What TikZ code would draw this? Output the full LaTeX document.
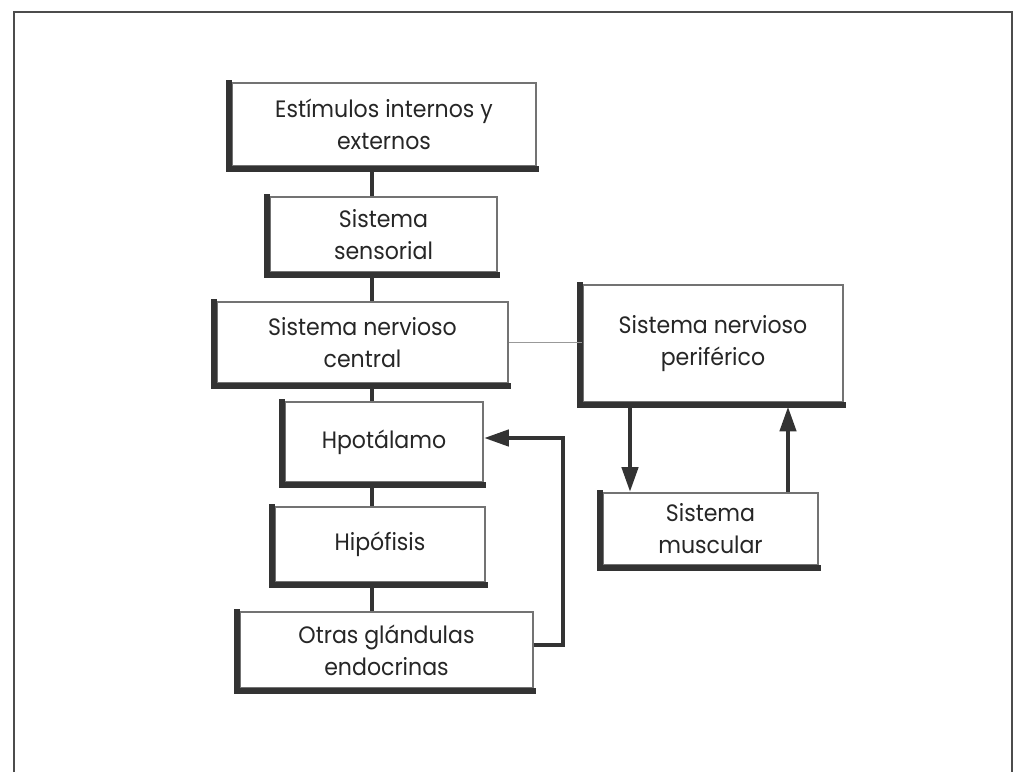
\documentclass[tikz,border=0pt]{standalone}
\usepackage{fontspec}
\setmainfont{Poppins}[FakeStretch=0.93]
\usetikzlibrary{arrows.meta}
\begin{document}
\begin{tikzpicture}[x=0.02cm,y=-0.02cm,
  box/.style={draw=black!55, line width=1.1pt, fill=white, align=center,
    inner sep=0pt, font=\fontsize{13.5pt}{18.2pt}\selectfont, text=black!85},
  shadowline/.style={line width=3.4pt, draw=black!80, line cap=butt},
  link/.style={line width=2.6pt, draw=black!80},
  tip/.style={-{Triangle[length=0.5cm,width=0.32cm]}}
]
\useasboundingbox (0,0) rectangle (1015,772);
% page frame
\draw[line width=1.2pt, black!70] (14,772) -- (14,12) -- (1012,12) -- (1012,772);

% boxes
\node[box, minimum width=6.08cm, minimum height=1.66cm] (b1) at (384,124.5) {Estímulos internos y\\externos};
\node[box, minimum width=4.54cm, minimum height=1.50cm] (b2) at (383.5,234.5) {Sistema\\sensorial};
\node[box, minimum width=5.82cm, minimum height=1.62cm] (b3) at (362.5,342.5) {Sistema nervioso\\central};
\node[box, minimum width=3.96cm, minimum height=1.60cm] (b4) at (384,442) {Hpotálamo};
\node[box, minimum width=4.20cm, minimum height=1.50cm] (b5) at (380,544.5) {Hipófisis};
\node[box, minimum width=5.86cm, minimum height=1.52cm] (b6) at (386.5,650) {Otras glándulas\\endocrinas};
\node[box, minimum width=5.20cm, minimum height=2.34cm] (b7) at (713,343.5) {Sistema nervioso\\periférico};
\node[box, minimum width=4.30cm, minimum height=1.44cm] (b8) at (710.5,529) {Sistema\\muscular};

% heavy edges on the left and bottom of every box
\foreach \n in {b1,b2,b3,b4,b5,b6,b7,b8}
  \draw[shadowline] ([xshift=-1pt,yshift=1pt]\n.north west)
    -- ([xshift=-1pt,yshift=-1pt]\n.south west)
    -- ([xshift=1pt,yshift=-1pt]\n.south east);

% main vertical chain
\coordinate (spine) at (372,0);
\draw[link] ([yshift=-2pt]b1.south -| spine) -- (b2.north -| spine);
\draw[link] ([yshift=-2pt]b2.south -| spine) -- (b3.north -| spine);
\draw[link] ([yshift=-2pt]b3.south -| spine) -- (b4.north -| spine);
\draw[link] ([yshift=-2pt]b4.south -| spine) -- (b5.north -| spine);
\draw[link] ([yshift=-2pt]b5.south -| spine) -- (b6.north -| spine);

% central to peripheral nervous system
\draw[line width=1.1pt, black!40] (b3.east) -- (b3.east -| b7.west);

% peripheral <-> muscular
\coordinate (down) at (630,0);
\coordinate (up) at (788,0);
\draw[link, tip] ([yshift=-2pt]b7.south -| down) -- (b8.north -| down);
\draw[link, tip] (b8.north -| up) -- ([yshift=-2pt]b7.south -| up);

% feedback loop to the hypothalamus
\coordinate (fbl) at (563,645);
\coordinate (fbt) at (563,438);
\draw[link, tip] (fbl -| b6.east) -- (fbl) -- (fbt) -- (fbt -| b4.east);
\end{tikzpicture}
\end{document}
